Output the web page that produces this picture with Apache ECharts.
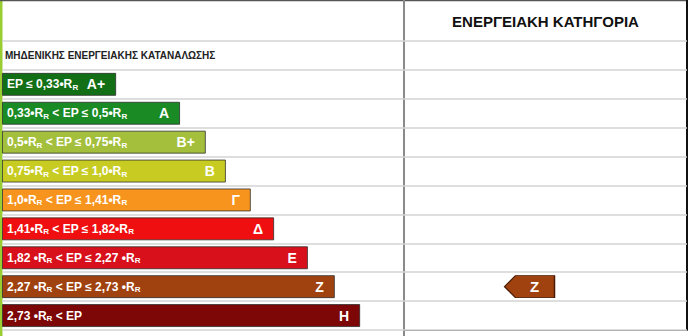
<!DOCTYPE html>
<html>
<head>
<meta charset="utf-8">
<script src="https://cdn.jsdelivr.net/npm/echarts@6/dist/echarts.min.js"></script>
<style>
html,body{margin:0;padding:0;background:#fff;}
#chart{width:689px;height:336px;}
</style>
</head>
<body>
<div id="chart"></div>
<script>
// ---- data ----
const rows = ['ΜΗΔΕΝΙΚΗΣ ΕΝΕΡΓΕΙΑΚΗΣ ΚΑΤΑΝΑΛΩΣΗΣ', 'Α+', 'Α', 'Β+', 'Β', 'Γ', 'Δ', 'Ε', 'Ζ', 'Η'];
// bar length, % of the left column width
const barLengths = [null, 28.4, 44.3, 50.7, 55.7, 61.9, 67.7, 76.1, 82.8, 89.1];
const rangeLabels = [
  '',
  'EP ≤ 0,33•R{s|R}',
  '0,33•R{s|R} < EP ≤ 0,5•R{s|R}',
  '0,5•R{s|R} < EP ≤ 0,75•R{s|R}',
  '0,75•R{s|R} < EP ≤ 1,0•R{s|R}',
  '1,0•R{s|R} < EP ≤ 1,41•R{s|R}',
  '1,41•R{s|R} < EP ≤ 1,82•R{s|R}',
  '1,82 •R{s|R} < EP ≤ 2,27 •R{s|R}',
  '2,27 •R{s|R} < EP ≤ 2,73 •R{s|R}',
  '2,73 •R{s|R} < EP'
];
const columnTitle = 'ΕΝΕΡΓΕΙΑΚΗ ΚΑΤΗΓΟΡΙΑ';
const currentClass = 'Ζ';

// ---- styles ----
const barColors = [null, '#136f16', '#1a8a24', '#a3bf3c', '#c8cc22', '#f7941d', '#ef0f10', '#d8101c', '#a0420f', '#7d0606'];
const narrow = "'Liberation Sans Narrow', 'Arial Narrow', 'Liberation Sans', Arial, sans-serif";
const wide = "'Liberation Sans', Arial, sans-serif";

const chart = echarts.init(document.getElementById('chart'), null, {renderer: 'svg'});

const mainData = barLengths.map((v, i) => v == null ? '-' : {
  value: v,
  itemStyle: {color: barColors[i]},
  label: {formatter: rangeLabels[i]}
});
const letterData = barLengths.map(v => v == null ? '-' : v);

chart.setOption({
  animation: false,
  backgroundColor: '#fff',
  grid: [
    {left: 2, right: 285, top: 41, bottom: 6},
    {left: 404, right: 2, top: 41, bottom: 6}
  ],
  xAxis: [
    {type: 'value', gridIndex: 0, min: 0, max: 100, show: false},
    {type: 'category', gridIndex: 1, data: [columnTitle], position: 'top',
     axisLine: {show: false}, axisTick: {show: false}, splitLine: {show: false},
     axisLabel: {margin: 20, verticalAlign: 'middle', fontFamily: wide, fontWeight: 'bold', fontSize: 15, color: '#111'}}
  ],
  yAxis: [
    {type: 'category', gridIndex: 0, data: rows, inverse: true,
     axisLine: {show: false}, axisTick: {show: false},
     splitLine: {show: true, lineStyle: {color: '#d3d3d3', width: 1.5}},
     axisLabel: {inside: true, margin: 3, fontFamily: narrow, fontWeight: 'bold', fontSize: 10, color: '#222',
       padding: [0, 0, 5, 0],
       formatter: (v, i) => i === 0 ? v : ''}},
    {type: 'category', gridIndex: 1, data: rows, inverse: true,
     axisLine: {show: false}, axisTick: {show: false}, axisLabel: {show: false},
     splitLine: {show: true, lineStyle: {color: '#d3d3d3', width: 1.5}}}
  ],
  series: [
    {type: 'bar', xAxisIndex: 0, yAxisIndex: 0, data: mainData, barWidth: 23,
     itemStyle: {borderColor: 'rgba(40,40,40,0.75)', borderWidth: 1},
     label: {show: true, position: 'insideLeft', distance: 5, color: '#fff',
       fontFamily: narrow, fontWeight: 'bold', fontSize: 12, lineHeight: 14,
       rich: {s: {fontFamily: narrow, fontWeight: 'bold', fontSize: 8, color: '#fff', verticalAlign: 'bottom', lineHeight: 11}}}},
    {type: 'bar', xAxisIndex: 0, yAxisIndex: 0, data: letterData, barWidth: 23, barGap: '-100%', silent: true,
     itemStyle: {color: 'rgba(0,0,0,0)'},
     label: {show: true, position: 'insideRight', distance: 11, formatter: '{b}', color: '#fff',
       fontFamily: wide, fontWeight: 'bold', fontSize: 14}},
    {type: 'scatter', xAxisIndex: 1, yAxisIndex: 1, data: [[columnTitle, currentClass]],
     symbol: 'path://M0,11 L11,0 L50,0 L50,22 L11,22 Z', symbolSize: [50, 22], symbolOffset: [-16, 0],
     itemStyle: {color: '#a0420f', borderColor: '#4a1a05', borderWidth: 1, opacity: 1},
     label: {show: true, position: 'inside', offset: [5, 0], formatter: currentClass, color: '#fff',
       fontFamily: wide, fontWeight: 'bold', fontSize: 15}}
  ],
  graphic: [
    {type: 'rect', left: 0, top: 0, shape: {width: 2.5, height: 336}, style: {fill: '#9acd32'}, silent: true},
    {type: 'line', shape: {x1: 0, y1: 0.5, x2: 688, y2: 0.5}, style: {stroke: '#555', lineWidth: 1.5}, silent: true},
    {type: 'line', shape: {x1: 404, y1: 0, x2: 404, y2: 336}, style: {stroke: '#8a8a8a', lineWidth: 2}, silent: true},
    {type: 'line', shape: {x1: 687, y1: 0, x2: 687, y2: 331}, style: {stroke: '#111', lineWidth: 2}, silent: true},
    {type: 'line', shape: {x1: 404, y1: 330.5, x2: 688, y2: 330.5}, style: {stroke: '#555', lineWidth: 1.2}, silent: true}
  ]
});
</script>
</body>
</html>
